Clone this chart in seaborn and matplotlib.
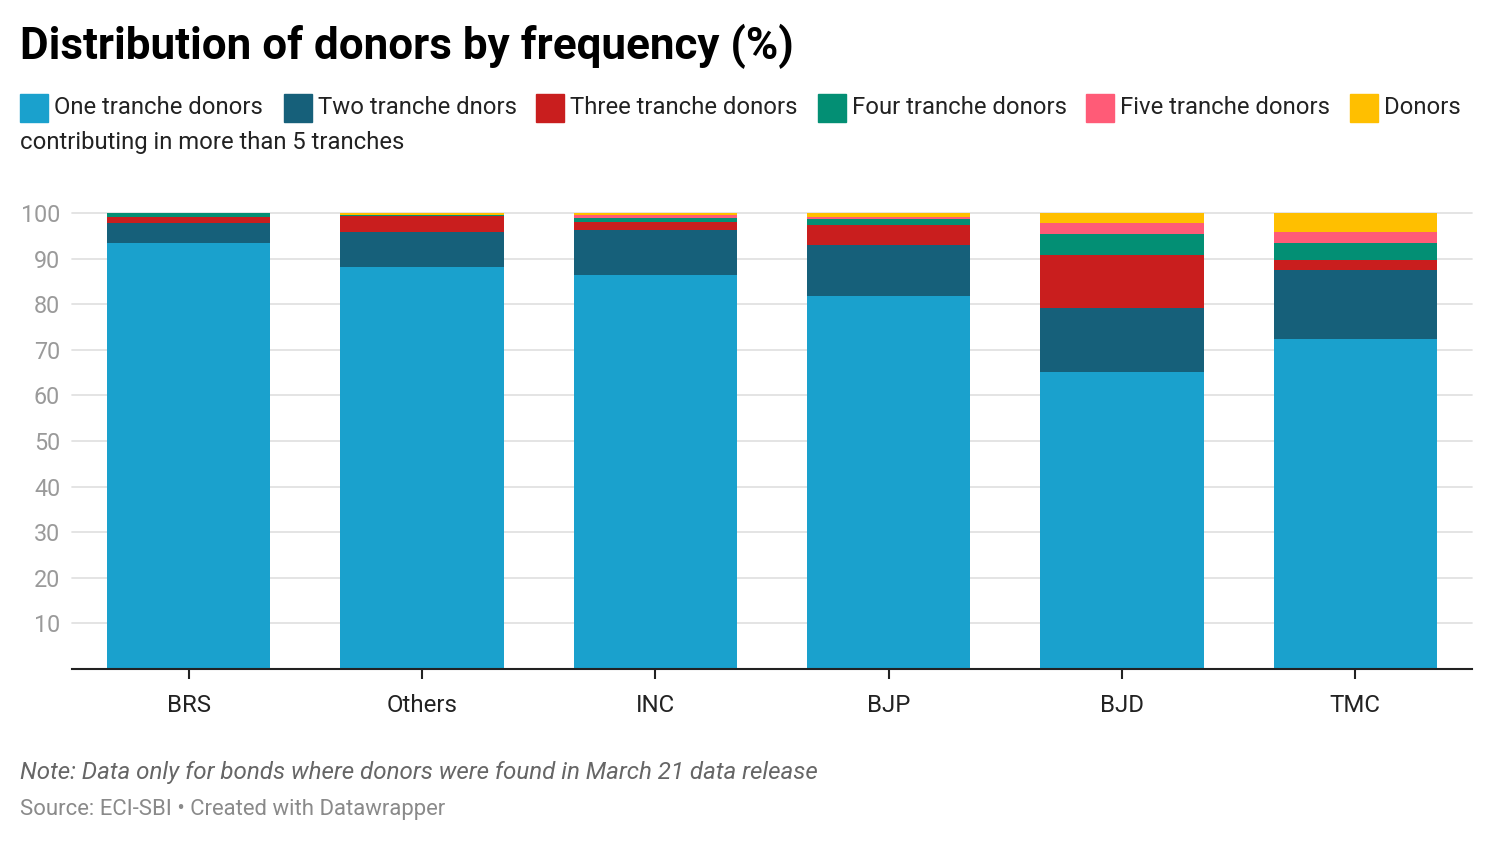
import matplotlib
matplotlib.use("Agg")
import matplotlib.pyplot as plt
import matplotlib.patches as mpatches
import pandas as pd
import seaborn as sns

# data (percent of donors)
parties = ["BRS", "Others", "INC", "BJP", "BJD", "TMC"]
series_names = [
    "One tranche donors",
    "Two tranche dnors",
    "Three tranche donors",
    "Four tranche donors",
    "Five tranche donors",
    "Donors contributing in more than 5 tranches",
]
one_tranche = [93.4, 88.2, 86.4, 81.9, 65.1, 72.4]
two_tranche = [4.4, 7.7, 9.9, 11.0, 14.0, 15.0]
three_tranche = [1.3, 3.4, 1.75, 4.4, 11.7, 2.3]
four_tranche = [0.9, 0.3, 0.9, 1.3, 4.5, 3.7]
five_tranche = [0.0, 0.0, 0.7, 0.45, 2.4, 2.4]
more_tranche = [0.0, 0.4, 0.45, 0.9, 2.2, 4.2]
colors = ["#1aa1cd", "#16607a", "#c91e1e", "#038f74", "#ff5b77", "#ffbf00"]

values = [one_tranche, two_tranche, three_tranche, four_tranche, five_tranche, more_tranche]

sns.set_theme(style="white")
plt.rcParams["font.family"] = ["Roboto", "DejaVu Sans"]

fig = plt.figure(figsize=(14.92, 8.42), dpi=100)
ax = fig.add_axes([72 / 1492, 1 - 669 / 842, 1400 / 1492, (669 - 213) / 842])

# stacked bars
bottom = [0.0] * len(parties)
for name, vals, col in zip(series_names, values, colors):
    df = pd.DataFrame({"party": parties, "value": vals})
    sns.barplot(data=df, x="party", y="value", order=parties, color=col,
                saturation=1, width=0.7, bottom=bottom, ax=ax, zorder=2,
                linewidth=0, errorbar=None)
    bottom = [b + v for b, v in zip(bottom, vals)]

ax.set_xlim(-0.5, 5.5)
ax.set_ylim(0, 100)
ax.set_yticks(range(10, 101, 10))
ax.yaxis.grid(True, color="#e2e2e2", linewidth=1.3, zorder=0)
ax.set_axisbelow(True)
for gl in ax.get_ygridlines():
    gl.set_clip_on(False)
for s in ["top", "right", "left"]:
    ax.spines[s].set_visible(False)
ax.spines["bottom"].set_color("#222222")
ax.spines["bottom"].set_linewidth(1.5)
ax.spines["bottom"].set_zorder(3)
ax.tick_params(axis="y", length=0, pad=8.5, labelsize=16.8, labelcolor="#9a9a9a")
ax.tick_params(axis="x", length=7, width=1.5, color="#222222", pad=11,
               labelsize=17.3, labelcolor="#222222", bottom=True)
ax.set_xlabel("")
ax.set_ylabel("")

# title
fig.text(20 / 1492, 1 - 46 / 842, "Distribution of donors by frequency (%)",
         fontsize=31.7, fontweight="bold", color="#000000", va="center", ha="left")

# legend drawn by hand to match wrap in reference
leg_x = [20, 284, 536, 818, 1086, 1350]
leg_text = series_names[:5] + ["Donors"]
for x, txt, col in zip(leg_x, leg_text, colors):
    fig.patches.append(mpatches.Rectangle((x / 1492, 1 - 122 / 842), 28 / 1492, 28 / 842,
                                          transform=fig.transFigure, color=col, figure=fig))
    fig.text((x + 34) / 1492, 1 - 107 / 842, txt, fontsize=17.2, color="#222222",
             va="center", ha="left")
fig.text(20 / 1492, 1 - 143 / 842, "contributing in more than 5 tranches",
         fontsize=17.2, color="#222222", va="center", ha="left")

# notes
fig.text(20 / 1492, 1 - 773 / 842,
         "Note: Data only for bonds where donors were found in March 21 data release",
         fontsize=17.4, style="italic", color="#666666", va="center", ha="left")
fig.text(20 / 1492, 1 - 809 / 842, "Source: ECI-SBI \u2022 Created with Datawrapper",
         fontsize=15.9, color="#8a8a8a", va="center", ha="left")

fig.savefig("out.png", dpi=100, facecolor="white")
